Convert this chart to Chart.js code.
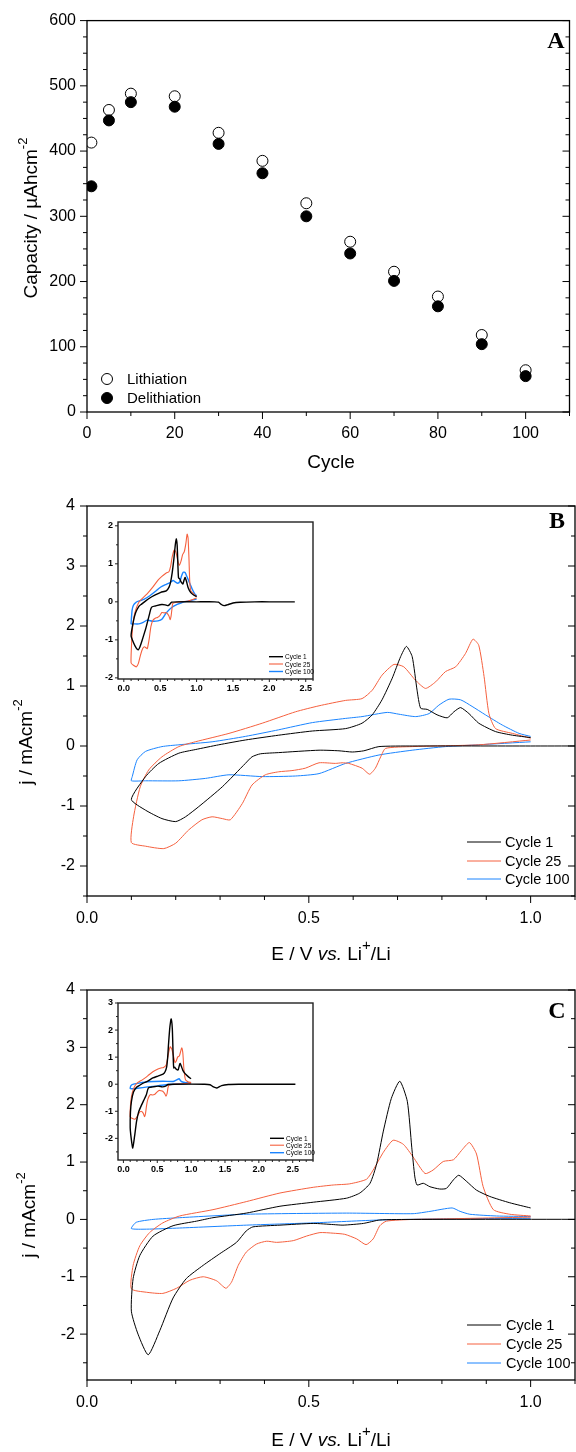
<!DOCTYPE html>
<html>
<head>
<meta charset="utf-8">
<title>Capacity and cyclic voltammetry</title>
<script src="https://cdn.jsdelivr.net/npm/chart.js@4.4.1/dist/chart.umd.min.js"></script>
<style>
  body { margin: 0; background: #fff; }
  #page { position: relative; width: 576px; height: 1452px; overflow: hidden; background: #fff; }
  canvas { position: absolute; }
</style>
</head>
<body>
<div id="page">
  <canvas id="chartA" width="576" height="480" style="left:0;top:0"></canvas>
  <canvas id="chartB" width="576" height="490" style="left:0;top:480px"></canvas>
  <canvas id="insetB" width="262" height="200" style="left:60px;top:500px"></canvas>
  <canvas id="chartC" width="576" height="492" style="left:0;top:960px"></canvas>
  <canvas id="insetC" width="262" height="200" style="left:60px;top:980px"></canvas>
</div>
<script>
const SANS = '"Liberation Sans", Arial, sans-serif';
const SERIF = '"Liberation Serif", "Times New Roman", serif';

// ---- panel A : capacity vs cycle
const cycles = [1, 5, 10, 20, 30, 40, 50, 60, 70, 80, 90, 100];
const lithiation = [413, 463, 488, 484, 428, 385, 320, 261, 215, 177, 118, 64];
const delithiation = [346, 447, 475, 468, 411, 366, 300, 243, 201, 162, 104, 55];
const capTicks = [0, 100, 200, 300, 400, 500, 600];
const cycleTicks = [0, 20, 40, 60, 80, 100];

// ---- panel B : CV, cathodic sweep then anodic sweep (E in V, j in mA cm-2)
const b1E = [2.35, 2.0, 1.8, 1.6, 1.5, 1.42, 1.38, 1.34, 1.3, 1.25, 1.0, 0.733, 0.658, 0.624, 0.598, 0.568, 0.523, 0.432, 0.391, 0.372, 0.357, 0.305, 0.252, 0.222, 0.2, 0.169, 0.132, 0.1,
  0.132, 0.162, 0.207, 0.244, 0.297, 0.357, 0.432, 0.508, 0.583, 0.62, 0.643, 0.665, 0.688, 0.707, 0.72, 0.733, 0.744, 0.752, 0.767, 0.789, 0.812, 0.827, 0.842, 0.861, 0.883, 0.921, 0.959, 1.0];
const b1J = [0, 0, 0, -0.01, -0.03, -0.08, -0.1, -0.07, -0.01, 0, 0, 0, -0.01, -0.08, -0.1, -0.08, -0.07, -0.11, -0.13, -0.18, -0.29, -0.68, -1.01, -1.18, -1.26, -1.21, -1.07, -0.89,
  -0.51, -0.29, -0.12, -0.06, 0.02, 0.1, 0.18, 0.25, 0.29, 0.38, 0.52, 0.77, 1.13, 1.49, 1.66, 1.49, 0.93, 0.63, 0.61, 0.52, 0.47, 0.57, 0.64, 0.54, 0.38, 0.24, 0.18, 0.14];
const b25E = [1.0, 0.883, 0.733, 0.673, 0.662, 0.65, 0.637, 0.62, 0.59, 0.575, 0.56, 0.523, 0.492, 0.462, 0.432, 0.402, 0.372, 0.35, 0.323, 0.305, 0.282, 0.259, 0.229, 0.2, 0.173, 0.132, 0.1,
  0.105, 0.12, 0.139, 0.169, 0.207, 0.244, 0.32, 0.395, 0.47, 0.523, 0.583, 0.62, 0.643, 0.665, 0.692, 0.714, 0.74, 0.763, 0.786, 0.808, 0.831, 0.853, 0.87, 0.883, 0.895, 0.906, 0.921, 0.959, 1.0];
const b25J = [0.1, 0.02, -0.01, -0.04, -0.18, -0.37, -0.47, -0.37, -0.29, -0.28, -0.29, -0.28, -0.37, -0.41, -0.43, -0.48, -0.65, -0.96, -1.23, -1.21, -1.18, -1.23, -1.4, -1.62, -1.71, -1.67, -1.61,
  -1.18, -0.68, -0.4, -0.18, -0.01, 0.07, 0.21, 0.38, 0.57, 0.67, 0.76, 0.79, 0.93, 1.18, 1.36, 1.32, 1.1, 0.96, 1.07, 1.24, 1.32, 1.54, 1.78, 1.68, 1.16, 0.54, 0.29, 0.21, 0.13];
const b100E = [1.0, 0.883, 0.808, 0.733, 0.658, 0.583, 0.523, 0.47, 0.395, 0.32, 0.267, 0.207, 0.132, 0.1,
  0.102, 0.113, 0.132, 0.169, 0.207, 0.282, 0.357, 0.432, 0.508, 0.583, 0.62, 0.677, 0.703, 0.741, 0.771, 0.793, 0.816, 0.842, 0.868, 0.898, 0.936, 0.974, 1.0];
const b100J = [0.07, 0.02, -0.01, -0.07, -0.15, -0.29, -0.46, -0.5, -0.51, -0.48, -0.54, -0.58, -0.58, -0.58,
  -0.51, -0.23, -0.09, -0.01, 0.02, 0.07, 0.16, 0.27, 0.39, 0.46, 0.49, 0.56, 0.53, 0.49, 0.54, 0.68, 0.78, 0.77, 0.66, 0.52, 0.35, 0.21, 0.16];

// ---- panel C : CV of the second electrode
const c1E = [2.54, 2.0, 1.7, 1.55, 1.45, 1.38, 1.33, 1.28, 1.2, 0.735, 0.66, 0.623, 0.577, 0.555, 0.51, 0.435, 0.374, 0.359, 0.337, 0.299, 0.262, 0.224, 0.194, 0.164, 0.138, 0.115, 0.1,
  0.104, 0.119, 0.149, 0.194, 0.247, 0.284, 0.359, 0.435, 0.51, 0.585, 0.615, 0.638, 0.653, 0.668, 0.686, 0.705, 0.722, 0.732, 0.739, 0.744, 0.758, 0.773, 0.795, 0.81, 0.826, 0.838, 0.856, 0.878, 0.908, 0.953, 1.0];
const c1J = [0, 0, 0, -0.01, -0.05, -0.14, -0.1, -0.02, 0, 0, -0.01, -0.07, -0.1, -0.09, -0.07, -0.1, -0.13, -0.2, -0.4, -0.6, -0.8, -1.03, -1.37, -1.94, -2.36, -2.0, -1.6,
  -1.03, -0.63, -0.29, -0.11, -0.03, 0.03, 0.11, 0.23, 0.3, 0.37, 0.46, 0.63, 0.97, 1.54, 2.11, 2.41, 2.06, 1.26, 0.74, 0.6, 0.63, 0.57, 0.53, 0.54, 0.69, 0.77, 0.66, 0.51, 0.4, 0.29, 0.2];
const c25E = [1.0, 0.81, 0.735, 0.675, 0.66, 0.645, 0.629, 0.608, 0.581, 0.555, 0.525, 0.495, 0.465, 0.427, 0.405, 0.382, 0.359, 0.341, 0.326, 0.313, 0.292, 0.262, 0.232, 0.202, 0.171, 0.134, 0.1,
  0.104, 0.119, 0.141, 0.171, 0.209, 0.284, 0.359, 0.435, 0.51, 0.555, 0.592, 0.63, 0.645, 0.668, 0.69, 0.713, 0.735, 0.762, 0.78, 0.803, 0.826, 0.844, 0.862, 0.878, 0.893, 0.916, 0.953, 1.0];
const c25J = [0.04, 0.01, 0, -0.03, -0.11, -0.34, -0.44, -0.34, -0.26, -0.24, -0.23, -0.29, -0.37, -0.4, -0.38, -0.43, -0.57, -0.8, -1.09, -1.2, -1.07, -1.0, -1.06, -1.2, -1.29, -1.27, -1.21,
  -0.8, -0.46, -0.23, -0.06, 0.06, 0.17, 0.31, 0.46, 0.56, 0.6, 0.62, 0.7, 0.86, 1.17, 1.38, 1.31, 1.09, 0.8, 0.86, 1.01, 1.04, 1.2, 1.34, 1.14, 0.57, 0.17, 0.09, 0.06];
const c100E = [1.0, 0.81, 0.66, 0.51, 0.359, 0.209, 0.134, 0.1,
  0.111, 0.149, 0.209, 0.359, 0.585, 0.735, 0.773, 0.823, 0.841, 0.863, 0.923, 1.0];
const c100J = [0.02, 0.01, -0.01, -0.06, -0.1, -0.15, -0.17, -0.16,
  -0.05, 0, 0.03, 0.09, 0.11, 0.1, 0.14, 0.2, 0.14, 0.09, 0.06, 0.05];

const jTicksB = [-2, -1, 0, 1, 2, 3, 4];
const jTicksC = [-2, -1, 0, 1, 2, 3, 4];
const eTicks = [0, 0.5, 1.0];
const insetETicks = [0, 0.5, 1.0, 1.5, 2.0, 2.5];
const insetJTicksB = [-2, -1, 0, 1, 2];
const insetJTicksC = [-2, -1, 0, 1, 2, 3];
const cycleNames = ['Cycle 1', 'Cycle 25', 'Cycle 100'];
const cycleColors = ['#000000', '#f5603e', '#1a84ff'];

const pts = (xs, ys) => xs.map((x, i) => ({ x: x, y: ys[i] }));

// box + major/minor tick marks, drawn from the scales
const framePlugin = {
  id: 'frame',
  beforeDatasetsDraw(chart, args, o) {
    if (!o.fill) return;
    const a = chart.chartArea, ctx = chart.ctx;
    ctx.save();
    ctx.fillStyle = o.fill;
    ctx.fillRect(a.left, a.top, a.right - a.left, a.bottom - a.top);
    ctx.restore();
  },
  afterDraw(chart, args, o) {
    const { ctx, chartArea: a, scales } = chart;
    const marks = (sc, step) => {
      const majors = sc.ticks.map(t => t.value);
      const out = [];
      for (let n = Math.ceil(sc.min / step - 1e-6); n * step <= sc.max + 1e-9; n++) {
        const v = n * step;
        out.push({ p: sc.getPixelForValue(v), major: majors.some(m => Math.abs(m - v) < 1e-6) });
      }
      return out;
    };
    ctx.save();
    ctx.strokeStyle = o.color || '#000';
    ctx.lineWidth = o.lw;
    ctx.strokeRect(a.left, a.top, a.right - a.left, a.bottom - a.top);
    ctx.lineWidth = o.tickLw || 1;
    ctx.beginPath();
    marks(scales.x, o.xMinor).forEach(m => {
      const l = m.major ? o.majorLen : o.minorLen;
      ctx.moveTo(m.p, a.bottom);
      ctx.lineTo(m.p, a.bottom + l);
    });
    marks(scales.y, o.yMinor).forEach(m => {
      const l = m.major ? o.majorLen : o.minorLen;
      ctx.moveTo(a.left, m.p);
      ctx.lineTo(a.left - l, m.p);
      if (o.mirror) {
        ctx.moveTo(a.right, m.p);
        ctx.lineTo(a.right - l, m.p);
      }
    });
    ctx.stroke();
    ctx.restore();
  }
};

function drawParts(ctx, x, y, parts, rot) {
  ctx.save();
  ctx.translate(x, y);
  if (rot) ctx.rotate(rot);
  let w = 0;
  const ws = parts.map(p => { ctx.font = p.font; const m = ctx.measureText(p.t).width; w += m; return m; });
  let cx = -w / 2;
  ctx.textAlign = 'left';
  ctx.textBaseline = 'middle';
  ctx.fillStyle = '#000';
  parts.forEach((p, i) => { ctx.font = p.font; ctx.fillText(p.t, cx, p.dy || 0); cx += ws[i]; });
  ctx.restore();
}

// axis titles, panel letter and legends
const textPlugin = {
  id: 'texts',
  afterDraw(chart, args, o) {
    const ctx = chart.ctx;
    (o.items || []).forEach(it => drawParts(ctx, it.x, it.y, it.parts, it.rot));
    const lg = o.legend;
    if (lg) {
      chart.data.datasets.forEach((ds, i) => {
        const y = lg.rows[i];
        ctx.save();
        if (lg.dots) {
          ctx.beginPath();
          ctx.arc(lg.x0, y, ds.pointRadius, 0, Math.PI * 2);
          ctx.fillStyle = ds.pointBackgroundColor;
          ctx.fill();
          ctx.strokeStyle = ds.pointBorderColor;
          ctx.lineWidth = 1;
          ctx.stroke();
        } else {
          ctx.beginPath();
          ctx.moveTo(lg.x0, y);
          ctx.lineTo(lg.x1, y);
          ctx.strokeStyle = ds.borderColor;
          ctx.lineWidth = lg.lw || ds.borderWidth;
          ctx.stroke();
        }
        ctx.font = lg.font;
        ctx.fillStyle = '#000';
        ctx.textAlign = 'left';
        ctx.textBaseline = 'middle';
        ctx.fillText(ds.label, lg.tx, y + 1);
        ctx.restore();
      });
    }
  }
};

function linAxis(min, max, ticks, fmt, font, pad, fit) {
  return {
    type: 'linear', min: min, max: max,
    afterBuildTicks: sc => { sc.ticks = ticks.map(v => ({ value: v })); },
    afterFit: fit,
    ticks: { callback: fmt, font: font, color: '#000', padding: pad, maxRotation: 0, autoSkip: false },
    grid: { display: false, drawTicks: false },
    border: { display: false }
  };
}

// panel A
new Chart(document.getElementById('chartA'), {
  type: 'scatter',
  data: {
    datasets: [
      { label: 'Lithiation', data: pts(cycles, lithiation), pointRadius: 5.5, pointBackgroundColor: '#fff', pointBorderColor: '#000', pointBorderWidth: 1, order: 2 },
      { label: 'Delithiation', data: pts(cycles, delithiation), pointRadius: 5.5, pointBackgroundColor: '#000', pointBorderColor: '#000', pointBorderWidth: 1, order: 1 }
    ]
  },
  options: {
    responsive: false, animation: false, events: [],
    layout: { padding: { left: 0, top: 20, right: 1, bottom: 0 } },
    scales: {
      x: linAxis(0, 110, cycleTicks, v => String(v), { family: SANS, size: 16 }, 12, sc => { sc.height = 68; }),
      y: linAxis(0, 600, capTicks, v => String(v), { family: SANS, size: 16 }, 11, sc => { sc.width = 87; })
    },
    plugins: {
      legend: { display: false }, tooltip: { enabled: false },
      frame: { lw: 1.3, majorLen: 7, minorLen: 4, xMinor: 10, yMinor: 25, mirror: true },
      texts: {
        items: [
          { x: 32, y: 218, rot: -Math.PI / 2, parts: [{ t: 'Capacity / µAhcm', font: '19px ' + SANS }, { t: '-2', font: '13px ' + SANS, dy: -9 }] },
          { x: 331, y: 463, parts: [{ t: 'Cycle', font: '19px ' + SANS }] },
          { x: 556, y: 42, parts: [{ t: 'A', font: 'bold 24px ' + SERIF }] }
        ],
        legend: { dots: true, x0: 107, tx: 127, rows: [379, 398], font: '15px ' + SANS }
      }
    }
  },
  plugins: [framePlugin, textPlugin]
});

function cvChart(id, o) {
  const datasets = o.series.map((s, i) => ({
    label: cycleNames[i],
    data: pts(s[0], s[1]),
    showLine: true, borderColor: cycleColors[i], borderWidth: o.lw[i],
    pointRadius: 0, tension: 0.2, fill: false
  }));
  return new Chart(document.getElementById(id), {
    type: 'scatter',
    data: { datasets: datasets },
    options: {
      responsive: false, animation: false, events: [],
      layout: { padding: o.pad },
      scales: {
        x: linAxis(o.xMin, o.xMax, o.xTicks, v => v.toFixed(1), o.tickFont, o.xPad, sc => { sc.height = o.xH; }),
        y: linAxis(o.yMin, o.yMax, o.yTicks, v => String(v), o.tickFont, o.yPad, sc => { sc.width = o.yW; })
      },
      plugins: { legend: { display: false }, tooltip: { enabled: false }, frame: o.frame, texts: o.texts }
    },
    plugins: [framePlugin, textPlugin]
  });
}

const eTitle = [
  { t: 'E / V ', font: '19px ' + SANS }, { t: 'vs.', font: 'italic 19px ' + SANS },
  { t: ' Li', font: '19px ' + SANS }, { t: '+', font: '15px ' + SANS, dy: -9 }, { t: '/Li', font: '19px ' + SANS }
];
const jTitle = [{ t: 'j / mAcm', font: '19px ' + SANS }, { t: '-2', font: '13px ' + SANS, dy: -9 }];
const mainFrame = { lw: 1.3, majorLen: 7, minorLen: 4, xMinor: 0.1, yMinor: 0.5, mirror: true };
const insetFrame = { lw: 1.4, color: '#222', majorLen: 3, minorLen: 2, xMinor: 0.1, yMinor: 0.5, fill: '#fff' };
const insetFont = { family: SANS, size: 9, weight: 'bold' };

// panel B
cvChart('chartB', {
  series: [[b1E, b1J], [b25E, b25J], [b100E, b100J]], lw: [1, 1, 1],
  pad: { left: 0, top: 26, right: 1, bottom: 0 }, xH: 74, yW: 87,
  xMin: 0, xMax: 1.1, yMin: -2.5, yMax: 4, xTicks: eTicks, yTicks: jTicksB,
  tickFont: { family: SANS, size: 16 }, xPad: 13, yPad: 12, frame: mainFrame,
  texts: {
    items: [
      { x: 27, y: 262, rot: -Math.PI / 2, parts: jTitle },
      { x: 331, y: 475, parts: eTitle },
      { x: 557, y: 42, parts: [{ t: 'B', font: 'bold 24px ' + SERIF }] }
    ],
    legend: { x0: 467, x1: 501, tx: 505, rows: [362, 381, 399], font: '14.5px ' + SANS, lw: 1 }
  }
});
cvChart('insetB', {
  series: [[b1E, b1J], [b25E, b25J], [b100E, b100J]], lw: [1.4, 1.1, 1.4],
  pad: { left: 0, top: 22, right: 9, bottom: 0 }, xH: 21, yW: 58,
  xMin: -0.08, xMax: 2.6, yMin: -2.03, yMax: 2.1, xTicks: insetETicks, yTicks: insetJTicksB,
  tickFont: insetFont, xPad: 4, yPad: 5, frame: insetFrame,
  texts: { legend: { x0: 209, x1: 223, tx: 225, rows: [156.7, 164, 171.5], font: '6.5px ' + SANS } }
});

// panel C
cvChart('chartC', {
  series: [[c1E, c1J], [c25E, c25J], [c100E, c100J]], lw: [1, 1, 1],
  pad: { left: 0, top: 30, right: 1, bottom: 0 }, xH: 72, yW: 87,
  xMin: 0, xMax: 1.1, yMin: -2.8, yMax: 4, xTicks: eTicks, yTicks: jTicksC,
  tickFont: { family: SANS, size: 16 }, xPad: 13, yPad: 12, frame: mainFrame,
  texts: {
    items: [
      { x: 30, y: 255, rot: -Math.PI / 2, parts: jTitle },
      { x: 331, y: 481, parts: eTitle },
      { x: 557, y: 52, parts: [{ t: 'C', font: 'bold 24px ' + SERIF }] }
    ],
    legend: { x0: 467, x1: 501, tx: 506, rows: [365, 384, 403], font: '14.5px ' + SANS, lw: 1 }
  }
});
cvChart('insetC', {
  series: [[c1E, c1J], [c25E, c25J], [c100E, c100J]], lw: [1.4, 1.1, 1.4],
  pad: { left: 0, top: 23, right: 9, bottom: 0 }, xH: 20, yW: 58,
  xMin: -0.08, xMax: 2.8, yMin: -2.8, yMax: 3, xTicks: insetETicks, yTicks: insetJTicksC,
  tickFont: insetFont, xPad: 4, yPad: 5, frame: insetFrame,
  texts: { legend: { x0: 210, x1: 224, tx: 226, rows: [158.3, 165.2, 172.7], font: '6.5px ' + SANS } }
});
</script>
</body>
</html>
